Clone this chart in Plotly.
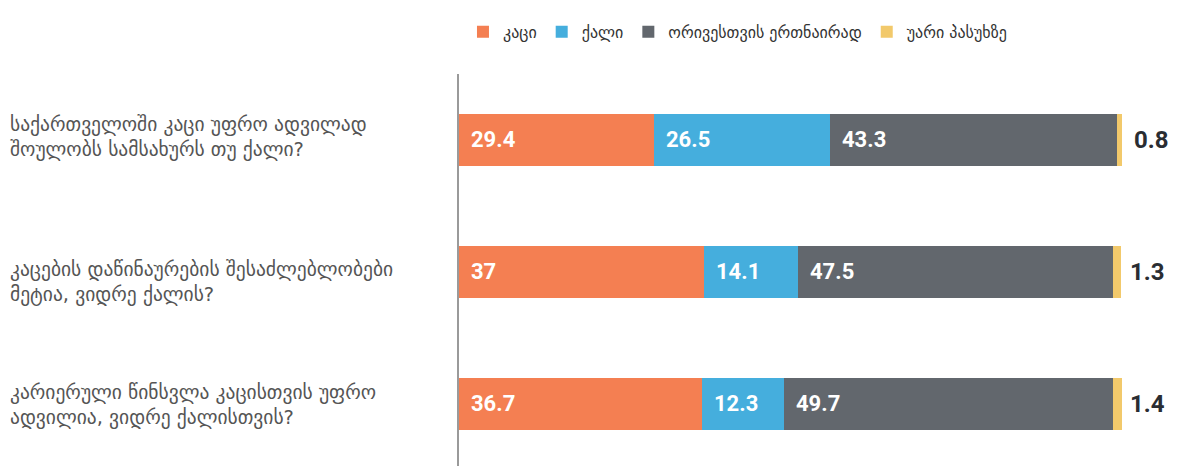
import plotly.graph_objects as go

categories = [
    "საქართველოში კაცი უფრო ადვილად<br>შოულობს სამსახურს თუ ქალი?",
    "კაცების დაწინაურების შესაძლებლობები<br>მეტია, ვიდრე ქალის?",
    "კარიერული წინსვლა კაცისთვის უფრო<br>ადვილია, ვიდრე ქალისთვის?",
]
series_names = ["კაცი", "ქალი", "ორივესთვის ერთნაირად", "უარი პასუხზე"]
man = [29.4, 37, 36.7]
woman = [26.5, 14.1, 12.3]
equal = [43.3, 47.5, 49.7]
no_answer = [0.8, 1.3, 1.4]
colors = ["#F47F52", "#45AEDD", "#62676D", "#F2C96B"]

series = [man, woman, equal, no_answer]
ypos = [0, 1, 2]

fig = go.Figure()
for name, vals, col in zip(series_names, series, colors):
    fig.add_trace(go.Bar(
        y=ypos, x=vals, name=name, orientation="h",
        marker=dict(color=col, line=dict(width=0)),
        width=0.4, hoverinfo="x+name",
    ))

num_font = dict(family="Liberation Sans Narrow, Roboto, sans-serif", size=22, color="white")
annotations = []
for i in range(3):
    base = 0
    for k, vals in enumerate(series[:3]):
        annotations.append(dict(
            x=base, y=ypos[i], xref="x", yref="y", text=f"<b>{vals[i]:g}</b>",
            showarrow=False, xanchor="left", yanchor="middle", xshift=10,
            font=num_font,
        ))
        base += vals[i]
    annotations.append(dict(
        x=base, y=ypos[i], xref="x", yref="y", text=f"<b>{no_answer[i]:g}</b>",
        showarrow=False, xanchor="left", yanchor="middle", xshift=15,
        font=dict(family="Liberation Sans Narrow, Roboto, sans-serif", size=24, color="#2A2D32"),
    ))

label_shifts = [3, -10, -1]
for i, cat in enumerate(categories):
    annotations.append(dict(
        x=0, y=ypos[i], xref="paper", yref="y", text=cat, align="left",
        showarrow=False, xanchor="left", yanchor="middle",
        xshift=-451, yshift=label_shifts[i],
        font=dict(family="DejaVu Sans, sans-serif", size=19.5, color="#555555"),
    ))

fig.update_layout(
    barmode="stack",
    width=1171, height=458,
    margin=dict(l=451, r=57, t=66, b=0, pad=0),
    paper_bgcolor="white", plot_bgcolor="white",
    showlegend=True,
    legend=dict(
        orientation="h", x=0.006, xanchor="left",
        yref="container", y=0.985, yanchor="top",
        font=dict(family="DejaVu Sans, sans-serif", size=16, color="#333333"),
        itemwidth=30, traceorder="normal", itemclick=False, itemdoubleclick=False,
    ),
    xaxis=dict(range=[0, 100], showgrid=False, zeroline=False, showticklabels=False,
               ticks="", showline=False, fixedrange=True),
    yaxis=dict(range=[2.47, -0.5], showgrid=False, zeroline=False, showticklabels=False,
               ticks="", showline=True, linecolor="#9A9A9A", linewidth=1.5, fixedrange=True),
    annotations=annotations,
)

fig.write_html("out.html")
